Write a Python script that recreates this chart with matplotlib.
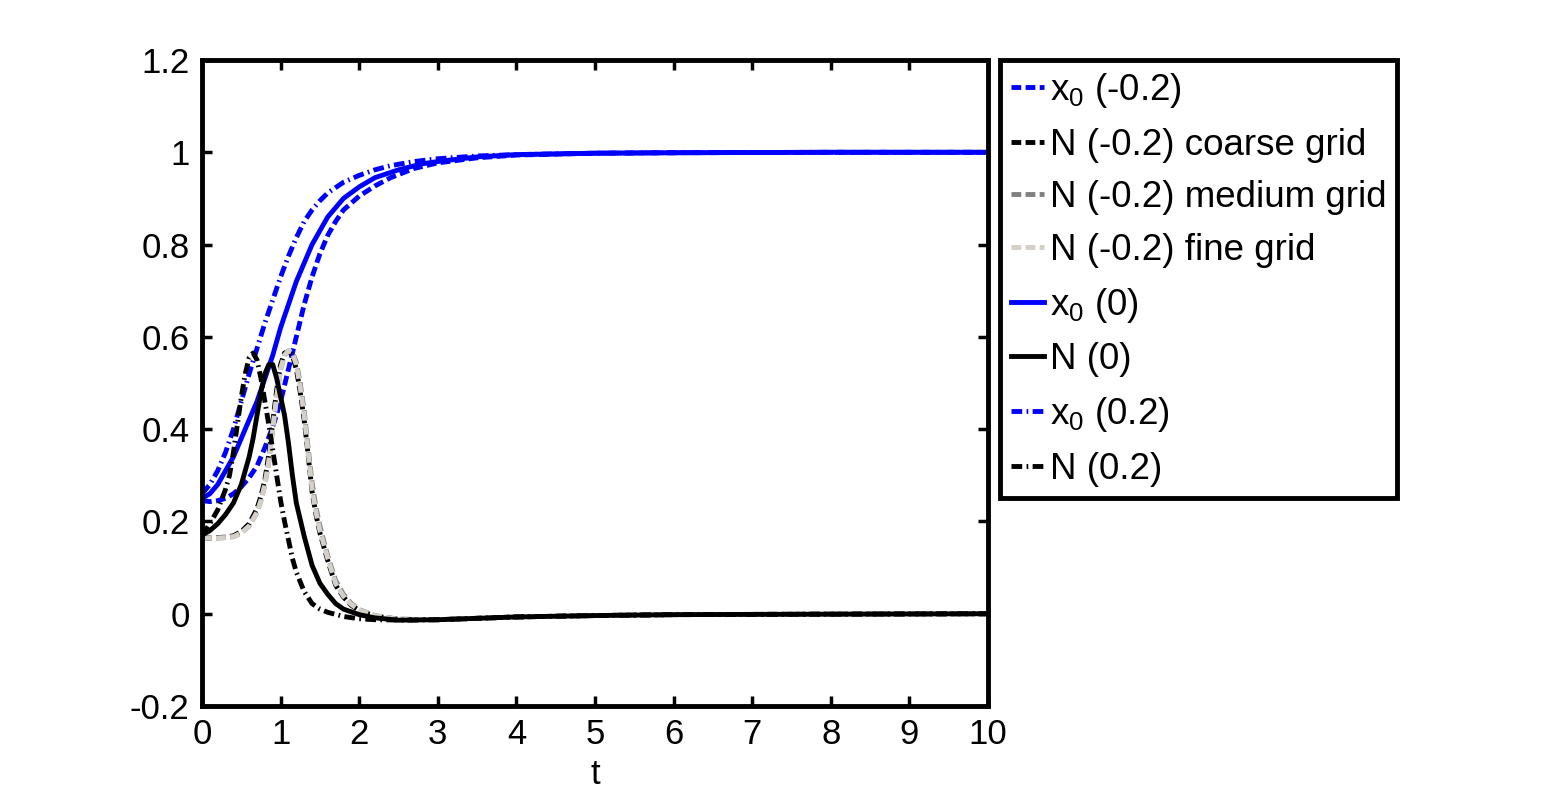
import matplotlib
matplotlib.use("Agg")
import matplotlib.pyplot as plt

plt.rcParams['font.family'] = ['Liberation Sans', 'DejaVu Sans']
plt.rcParams['mathtext.fontset'] = 'custom'
plt.rcParams['mathtext.rm'] = 'Liberation Sans'
plt.rcParams['mathtext.it'] = 'Liberation Sans'
plt.rcParams['mathtext.default'] = 'regular'

# x0 curves
t_x0_m = [0, 0.1, 0.2, 0.3, 0.4, 0.5, 0.6, 0.7, 0.8, 0.9, 1.0, 1.1, 1.2, 1.3, 1.4, 1.5,
          1.6, 1.7, 1.8, 2.0, 2.2, 2.4, 2.7, 3.0, 3.5, 4.0, 5.0, 6.0, 8.0, 10.0]
x0_m = [0.245, 0.243, 0.245, 0.25, 0.26, 0.275, 0.295, 0.32, 0.36, 0.405, 0.46, 0.53, 0.60,
        0.67, 0.73, 0.78, 0.82, 0.85, 0.875, 0.905, 0.927, 0.945, 0.965, 0.977, 0.988,
        0.994, 0.998, 0.999, 1.0, 1.0]

t_x0_0 = [0, 0.1, 0.2, 0.3, 0.4, 0.5, 0.6, 0.7, 0.8, 0.9, 1.0, 1.1, 1.2, 1.3, 1.4, 1.5,
          1.6, 1.8, 2.0, 2.2, 2.5, 2.8, 3.0, 3.5, 4.0, 5.0, 6.0, 8.0, 10.0]
x0_0 = [0.25, 0.26, 0.28, 0.31, 0.34, 0.38, 0.42, 0.46, 0.51, 0.56, 0.62, 0.67, 0.72, 0.76,
        0.80, 0.83, 0.86, 0.90, 0.925, 0.945, 0.962, 0.975, 0.98, 0.99, 0.995, 0.998,
        0.999, 1.0, 1.0]

t_x0_p = [0, 0.1, 0.2, 0.3, 0.4, 0.5, 0.6, 0.7, 0.8, 0.9, 1.0, 1.1, 1.2, 1.3, 1.4, 1.5,
          1.6, 1.8, 2.0, 2.2, 2.4, 2.7, 3.0, 3.5, 4.0, 5.0, 6.0, 8.0, 10.0]
x0_p = [0.26, 0.28, 0.31, 0.35, 0.40, 0.46, 0.52, 0.575, 0.63, 0.68, 0.73, 0.775, 0.815,
        0.85, 0.875, 0.895, 0.912, 0.935, 0.95, 0.962, 0.971, 0.98, 0.986, 0.992, 0.995,
        0.998, 0.999, 1.0, 1.0]

# N for x0 = -0.2 on three grids
t_n_m = [0, 0.1, 0.2, 0.3, 0.4, 0.5, 0.6, 0.7, 0.75, 0.8, 0.85, 0.9, 0.95, 1.0, 1.05, 1.1,
         1.15, 1.2, 1.25, 1.3, 1.35, 1.4, 1.45, 1.5, 1.6, 1.7, 1.8, 1.9, 2.0, 2.2, 2.5, 3.0,
         3.5, 4.0, 5.0, 6.0, 8.0, 10.0]
n_coarse = [0.165, 0.164, 0.165, 0.166, 0.169, 0.178, 0.195, 0.228, 0.255, 0.29, 0.345,
            0.415, 0.485, 0.54, 0.565, 0.568, 0.56, 0.53, 0.48, 0.42, 0.345, 0.265, 0.215,
            0.175, 0.115, 0.062, 0.036, 0.018, 0.007, -0.005, -0.012, -0.013, -0.01,
            -0.007, -0.004, -0.002, -0.001, 0.0]
n_medium = [0.165, 0.164, 0.164, 0.165, 0.167, 0.175, 0.19, 0.22, 0.245, 0.28, 0.33, 0.40,
            0.47, 0.53, 0.56, 0.57, 0.567, 0.545, 0.50, 0.44, 0.36, 0.285, 0.23, 0.19,
            0.125, 0.072, 0.042, 0.022, 0.009, -0.004, -0.012, -0.013, -0.01, -0.007,
            -0.004, -0.002, -0.001, 0.0]
n_fine = [0.165, 0.164, 0.164, 0.165, 0.167, 0.175, 0.19, 0.22, 0.245, 0.28, 0.33, 0.40,
          0.47, 0.53, 0.56, 0.57, 0.565, 0.54, 0.49, 0.43, 0.35, 0.27, 0.22, 0.18, 0.12,
          0.065, 0.038, 0.02, 0.008, -0.004, -0.012, -0.013, -0.01, -0.007, -0.004,
          -0.002, -0.001, 0.0]

t_n_0 = [0, 0.1, 0.2, 0.3, 0.4, 0.5, 0.6, 0.65, 0.7, 0.75, 0.8, 0.85, 0.9, 0.95, 1.0, 1.05,
         1.1, 1.15, 1.2, 1.3, 1.4, 1.5, 1.6, 1.7, 1.8, 2.0, 2.2, 2.5, 3.0, 3.5, 4.0, 5.0,
         6.0, 8.0, 10.0]
n_0 = [0.17, 0.18, 0.195, 0.215, 0.24, 0.28, 0.34, 0.38, 0.43, 0.48, 0.52, 0.54, 0.54,
       0.51, 0.47, 0.43, 0.37, 0.30, 0.24, 0.168, 0.105, 0.066, 0.042, 0.022, 0.01, -0.002,
       -0.009, -0.014, -0.013, -0.01, -0.007, -0.004, -0.002, -0.001, 0.0]

t_n_p = [0, 0.1, 0.2, 0.3, 0.35, 0.4, 0.45, 0.5, 0.55, 0.6, 0.65, 0.7, 0.75, 0.8, 0.85,
         0.9, 0.95, 1.0, 1.05, 1.1, 1.15, 1.2, 1.3, 1.4, 1.5, 1.6, 1.8, 2.0, 2.2, 2.6, 3.0,
         3.5, 4.0, 5.0, 6.0, 8.0, 10.0]
n_p = [0.17, 0.195, 0.225, 0.27, 0.30, 0.35, 0.41, 0.47, 0.52, 0.555, 0.565, 0.55, 0.51,
       0.46, 0.41, 0.355, 0.30, 0.245, 0.20, 0.16, 0.12, 0.09, 0.048, 0.022, 0.01, 0.003,
       -0.006, -0.011, -0.013, -0.014, -0.013, -0.01, -0.007, -0.004, -0.002, -0.001, 0.0]

xticks = [0, 1, 2, 3, 4, 5, 6, 7, 8, 9, 10]
yticks = [-0.2, 0, 0.2, 0.4, 0.6, 0.8, 1.0, 1.2]
ytick_labels = ['-0.2', '0', '0.2', '0.4', '0.6', '0.8', '1', '1.2']

blue = '#0000ff'
lw = 3.5
dash = (0, (2.0, 0.9))
dashdot = (0, (2.2, 0.9, 0.35, 0.9))

fig = plt.figure(figsize=(15.43, 8), dpi=100)
ax = fig.add_axes([202 / 1543, 1 - 706 / 800, 786 / 1543, 646 / 800])

ax.plot(t_x0_m, x0_m, color=blue, ls=dash, lw=lw, label=r'x$_0$ (-0.2)')
ax.plot(t_n_m, n_coarse, color='k', ls=dash, lw=lw, label='N (-0.2) coarse grid')
ax.plot(t_n_m, n_medium, color='#808080', ls=dash, lw=lw, label='N (-0.2) medium grid')
ax.plot(t_n_m, n_fine, color='#d4d0c8', ls=dash, lw=lw, label='N (-0.2) fine grid')
ax.plot(t_x0_0, x0_0, color=blue, ls='-', lw=lw, label=r'x$_0$ (0)')
ax.plot(t_n_0, n_0, color='k', ls='-', lw=lw, label='N (0)')
ax.plot(t_x0_p, x0_p, color=blue, ls=dashdot, lw=lw, label=r'x$_0$ (0.2)')
ax.plot(t_n_p, n_p, color='k', ls=dashdot, lw=lw, label='N (0.2)')

ax.set_xlim(0, 10)
ax.set_ylim(-0.2, 1.2)
ax.set_xticks(xticks)
ax.set_yticks(yticks)
ax.set_yticklabels(ytick_labels)
ax.tick_params(direction='in', length=7, width=2.5, top=True, right=True,
               labelsize=25, pad=9)
for s in ax.spines.values():
    s.set_linewidth(3.5)
ax.set_xlabel('t', fontsize=25, labelpad=5)

leg = ax.legend(loc='upper left', bbox_to_anchor=(1000 / 1543, 1 - 60 / 800),
                bbox_transform=fig.transFigure, fontsize=26.5, frameon=True,
                fancybox=False, edgecolor='k', framealpha=1, borderpad=0.3,
                borderaxespad=0, handlelength=0.9, handletextpad=0.15,
                labelspacing=0.48)
leg.get_frame().set_linewidth(3.5)

fig.savefig('out.png', dpi=100)
